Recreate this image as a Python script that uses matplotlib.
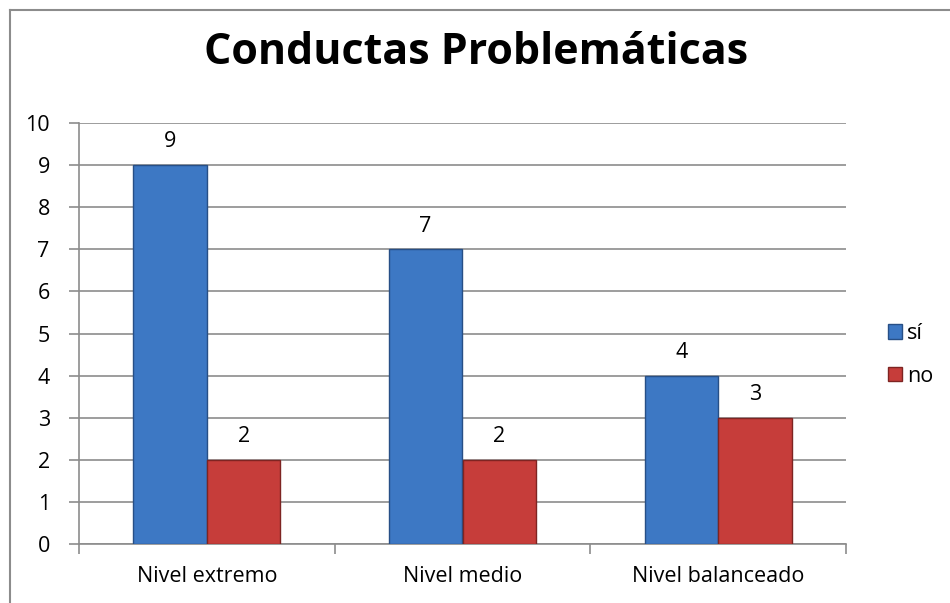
import matplotlib
matplotlib.use("Agg")
import matplotlib.pyplot as plt
from matplotlib.lines import Line2D
import numpy as np

categories = ["Nivel extremo", "Nivel medio", "Nivel balanceado"]
si_vals = [9, 7, 4]
no_vals = [2, 2, 3]
series = ["sí", "no"]

plt.rcParams['font.family'] = ['Open Sans', 'DejaVu Sans']

fig = plt.figure(figsize=(9.5, 6.03), dpi=100)
ax = fig.add_axes([79/950, 1-544/603, 767/950, 421/603])

# outer chart frame (only top/left visible in the reference)
fig.add_artist(Line2D([10/950, 10/950], [0, 1-10/603], color='#8c8c8c', lw=1.5))
fig.add_artist(Line2D([10/950, 1], [1-10/603, 1-10/603], color='#8c8c8c', lw=1.5))

x = np.arange(len(categories))
w = 0.288
b1 = ax.bar(x - w/2, si_vals, w, color='#3d78c4', edgecolor='#274f86', lw=1, zorder=3, label=series[0])
b2 = ax.bar(x + w/2, no_vals, w, color='#c63d3a', edgecolor='#7e2422', lw=1, zorder=3, label=series[1])

fs = 15.5
for bars in (b1, b2):
    for r in bars:
        ax.text(r.get_x() + r.get_width()/2, r.get_height() + 0.3, str(int(r.get_height())),
                ha='center', va='bottom', fontsize=fs)

ax.set_xlim(-0.5, 2.5)
ax.set_ylim(0, 10)
ax.set_yticks(range(0, 11))
ax.yaxis.grid(True, color='#8c8c8c', lw=1.2, zorder=0)
ax.set_axisbelow(True)
ax.set_xticks([-0.5, 0.5, 1.5, 2.5])
ax.set_xticklabels([])
ax.set_xticks(x, minor=True)
ax.set_xticklabels(categories, minor=True, fontsize=fs)
ax.tick_params(axis='x', which='minor', length=0, pad=16)
ax.tick_params(axis='x', which='major', length=7, color='#8c8c8c', width=1.2)
ax.tick_params(axis='y', length=7, color='#8c8c8c', width=1.2, labelsize=fs, pad=14)
for s in ['top', 'right']:
    ax.spines[s].set_visible(False)
for s in ['left', 'bottom']:
    ax.spines[s].set_color('#8c8c8c')
    ax.spines[s].set_linewidth(1.2)

fig.text(476/950, 1-52/603, "Conductas Problemáticas", ha='center', va='center',
         fontsize=31, fontweight='bold')

fig.legend(handles=[b1, b2], labels=series, loc='center left',
           bbox_to_anchor=(888/950, 1-355/603), frameon=False, fontsize=fs,
           borderpad=0, borderaxespad=0,
           handlelength=0.65, handleheight=0.65, handletextpad=0.25, labelspacing=1.0)

fig.savefig("out.png", dpi=100, facecolor='white')
